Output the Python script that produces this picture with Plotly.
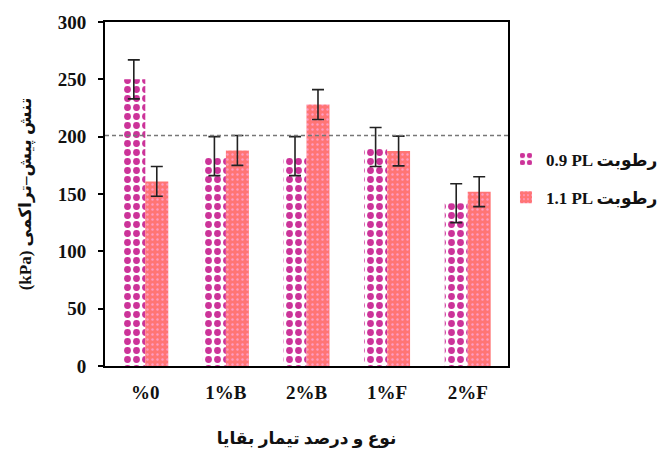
import plotly.graph_objects as go

# Residue treatment categories
categories = ["%0", "1%B", "2%B", "1%F", "2%F"]

# Pre-consolidation stress (kPa) at two moisture levels, with error margins
stress_09pl = [250, 183, 183, 191, 142]
err_09pl = [17, 17, 17, 17, 17]
stress_11pl = [161, 188, 228, 187.5, 152]
err_11pl = [13, 13, 13, 13, 13]

reference_level = 201

y_ticks = [0, 50, 100, 150, 200, 250, 300]

name_09 = "0.9 PL رطوبت"
name_11 = "1.1 PL رطوبت"

font_family = "Liberation Serif, DejaVu Sans, serif"
ink = "#111111"

fig = go.Figure()

fig.add_trace(go.Bar(
    x=categories, y=stress_09pl, name=name_09, legendgroup="a",
    marker=dict(
        color="white",
        line=dict(width=0),
        pattern=dict(shape=".", fgcolor="#cc3399", bgcolor="white",
                     size=9, solidity=0.45, fgopacity=1, fillmode="overlay"),
    ),
    error_y=dict(type="data", array=err_09pl, visible=True,
                 color="#222222", thickness=1.6, width=6),
))

fig.add_trace(go.Bar(
    x=categories, y=stress_11pl, name=name_11, legendgroup="b",
    marker=dict(
        color="#ff7575",
        line=dict(width=0),
        pattern=dict(shape=".", fgcolor="#ff9cc4", bgcolor="#ff7575",
                     size=5, solidity=0.18, fgopacity=1, fillmode="overlay"),
    ),
    error_y=dict(type="data", array=err_11pl, visible=True,
                 color="#222222", thickness=1.6, width=6),
))

fig.add_shape(type="line", xref="paper", yref="y", x0=0, x1=1,
              y0=reference_level, y1=reference_level,
              line=dict(color="#777777", width=1.5, dash="4px,3px"),
              layer="above")

fig.update_layout(
    width=661, height=451,
    margin=dict(l=105, r=153, t=22, b=85, autoexpand=False),
    paper_bgcolor="white", plot_bgcolor="white",
    barmode="group", bargap=0.43, bargroupgap=0,
    font=dict(family=font_family, size=16, color=ink),
    showlegend=True,
    legend=dict(
        x=0.995, xanchor="left", y=0.545, yanchor="middle",
        font=dict(family=font_family, size=17, color=ink, weight="bold"),
        tracegroupgap=13, traceorder="grouped",
        bgcolor="rgba(0,0,0,0)",
    ),
    xaxis=dict(
        showline=True, linecolor="black", linewidth=2, mirror=True,
        ticks="", showgrid=False, ticklabelstandoff=8,
        tickfont=dict(size=19, family=font_family, weight="bold", color=ink),
        title=dict(text="نوع و درصد تیمار بقایا",
                   font=dict(size=17, family=font_family, weight="bold", color=ink),
                   standoff=30),
    ),
    yaxis=dict(
        range=[0, 300], tickvals=y_ticks,
        showline=True, linecolor="black", linewidth=2, mirror=True,
        ticks="outside", ticklen=5, tickwidth=2, tickcolor="black",
        showgrid=False, zeroline=False, ticklabelstandoff=8,
        tickfont=dict(size=19, family=font_family, weight="bold", color=ink),
        title=dict(text="(kPa) تنش پیش–تراکمی",
                   font=dict(size=17, family=font_family, weight="bold", color=ink),
                   standoff=22),
    ),
)

fig.write_html("out.html")
